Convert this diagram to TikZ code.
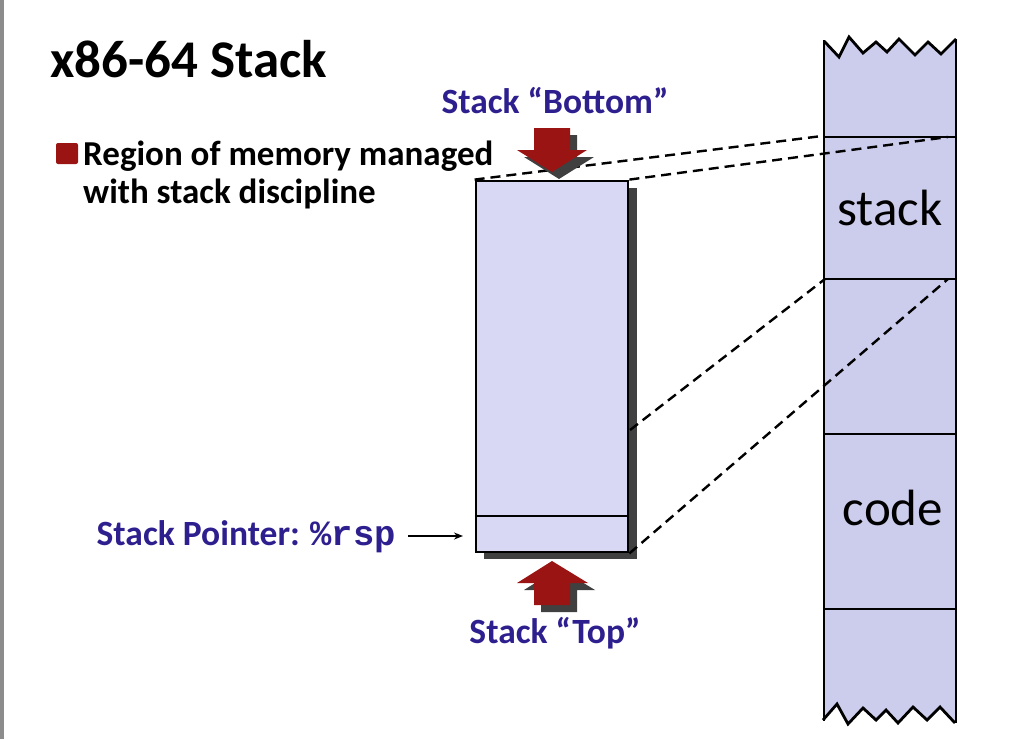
\documentclass[tikz,border=0pt]{standalone}
\usepackage{fontspec}
\setmainfont{Carlito}
\setmonofont{Liberation Mono}
\usetikzlibrary{arrows.meta}
\definecolor{ttlblue}{RGB}{46,31,143}
\definecolor{bulred}{RGB}{155,20,20}
\definecolor{shad}{RGB}{64,64,64}
\definecolor{stkfill}{RGB}{216,216,244}
\definecolor{memfill}{RGB}{204,204,236}
\tikzset{
  blue label/.style={font=\fontsize{35.5}{40}\selectfont\bfseries, text=ttlblue, inner sep=0pt},
  memline/.style={line width=2.8pt},
  dashlink/.style={line width=2.4pt, dash pattern=on 10pt off 6pt},
  fatarrow/.style={fill=bulred},
  fatshadow/.style={fill=shad},
}
\begin{document}
\begin{tikzpicture}[x=1pt,y=-1pt]
\useasboundingbox (0,0) rectangle (1011,739);
\fill[gray!90] (0,0) rectangle (4,739);
% title and bullet
\node[anchor=base west, inner sep=0pt, font=\fontsize{53}{60}\selectfont\bfseries] (title) at (50,77) {x86-64 Stack};
\node[fill=bulred, rounded corners=2pt, minimum width=22pt, minimum height=21pt, inner sep=0pt] (bul) at (67,153.5) {};
\node[anchor=base west, inner sep=0pt, font=\fontsize{35}{38}\selectfont\bfseries] (reg1) at (83,165) {Region of memory managed};
\node[anchor=base west, inner sep=0pt, font=\fontsize{35}{38}\selectfont\bfseries] (reg2) at (83,203) {with stack discipline};
% memory column
\fill[memfill] (824,41) -- (839,57) -- (849,37) -- (863,53) -- (876,42) -- (887,52) -- (899,39) -- (915,55) -- (928,42) -- (941,54) -- (957,39)
  -- (955,723) -- (940,707) -- (927,720) -- (913,707) -- (898,723) -- (886,710) -- (876,720) -- (863,708) -- (848,724) -- (837,704) -- (823,720) -- cycle;
\draw[memline, line join=miter] (824,41) -- (839,57) -- (849,37) -- (863,53) -- (876,42) -- (887,52) -- (899,39) -- (915,55) -- (928,42) -- (941,54) -- (956,39);
\draw[memline, line join=miter] (823,720) -- (837,704) -- (848,724) -- (863,708) -- (876,720) -- (886,710) -- (898,723) -- (913,707) -- (927,720) -- (940,707) -- (955,723);
\draw[memline] (824,40) -- (824,721);
\draw[memline] (956,39) -- (956,723);
\foreach \yy in {137,279,434,609} \draw[memline] (824,\yy) -- (956,\yy);
\node[inner sep=0pt, anchor=base, font=\fontsize{51}{60}\selectfont] (memstack) at (890,225) {stack};
\node[inner sep=0pt, anchor=base, font=\fontsize{51}{60}\selectfont] (memcode) at (893,525) {code};
\coordinate (m1) at (822,136);
\coordinate (m2) at (948,137);
\coordinate (m3) at (825,279);
\coordinate (m4) at (948,279);
% stack box
\fill[shad] (484,188) rectangle (637,559);
\node[draw, line width=2.8pt, fill=stkfill, minimum width=152pt, minimum height=371pt, inner sep=0pt] (stk) at (552,366.5) {};
\draw[line width=2.2pt] (stk.west |- 0,516) -- (stk.east |- 0,516);
\coordinate (s3) at (630,430);
% dashed links
\draw[dashlink] (stk.north west) -- (m1);
\draw[dashlink] (stk.north east) -- (m2);
\draw[dashlink] (s3) -- (m3);
\draw[dashlink] (stk.south east) -- (m4);
% bottom arrow
\node[blue label, anchor=base] (bot) at (555,113) {Stack “Bottom”};
\fill[fatshadow] (541,135) -- (577,135) -- (577,157) -- (594,157) -- (559,179) -- (524,157) -- (541,157) -- cycle;
\fill[fatarrow] (534,128) -- (570,128) -- (570,150) -- (587,150) -- (552,172) -- (517,150) -- (534,150) -- cycle;
% top arrow
\fill[fatshadow] (541,612) -- (577,612) -- (577,590) -- (595,590) -- (559,568) -- (524,590) -- (541,590) -- cycle;
\fill[fatarrow] (534,605) -- (570,605) -- (570,583) -- (588,583) -- (552,561) -- (517,583) -- (534,583) -- cycle;
\node[blue label, anchor=base] (top) at (555,643) {Stack “Top”};
% stack pointer
\node[blue label, anchor=base east] (sp) at (396,545) {Stack Pointer: {\ttfamily\bfseries\fontsize{35.5}{40}\selectfont \%rsp}};
\coordinate (spend) at (463,536);
\draw[line width=1.6pt, -{Stealth[length=9pt,width=7pt]}] (sp.east |- spend) ++(12,0) -- (spend);
\end{tikzpicture}
\end{document}
